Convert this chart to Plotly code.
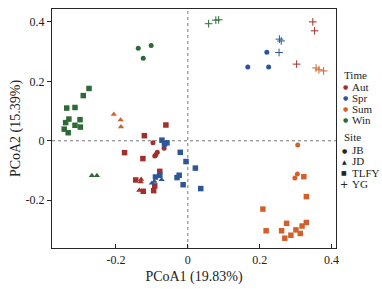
import plotly.graph_objects as go

# ---------------- data (PCoA1, PCoA2) ----------------
TIMES = ["Aut", "Spr", "Sum", "Win"]
SITES = ["JB", "JD", "TLFY", "YG"]
TIME_COLORS = {"Aut": "#A1302D", "Spr": "#2C5697", "Sum": "#D3602C", "Win": "#2E6A37"}
SITE_SYMBOLS = {"JB": "circle", "JD": "triangle-up", "TLFY": "square", "YG": "cross-thin"}

aut_jb_x = [-0.097, -0.066, -0.085, -0.089, -0.092]
aut_jb_y = [-0.007, -0.025, -0.039, -0.047, -0.051]
aut_jd_x = [-0.130, -0.131, -0.135]
aut_jd_y = [-0.130, -0.138, -0.167]
aut_tlfy_x = [-0.061, -0.121, -0.176, -0.125, -0.078, -0.145, -0.092, -0.095, -0.124]
aut_tlfy_y = [0.053, 0.017, -0.040, -0.060, -0.103, -0.132, -0.152, -0.168, -0.170]
aut_yg_x = [0.348, 0.353, 0.303]
aut_yg_y = [0.400, 0.370, 0.258]

spr_jb_x = [0.220, 0.167, 0.225]
spr_jb_y = [0.298, 0.248, 0.248]
spr_jd_x = [-0.100, -0.093, -0.073]
spr_jd_y = [-0.143, -0.137, -0.131]
spr_tlfy_x = [-0.072, -0.058, -0.065, -0.021, -0.005, 0.021, -0.024, -0.030, -0.013, 0.036, -0.090, -0.078]
spr_tlfy_y = [0.002, -0.007, -0.011, -0.039, -0.070, -0.092, -0.116, -0.124, -0.148, -0.161, -0.122, -0.116]
spr_yg_x = [0.255, 0.260, 0.254]
spr_yg_y = [0.342, 0.336, 0.297]

sum_jb_x = [0.306, 0.305, 0.298]
sum_jb_y = [-0.014, -0.112, -0.125]
sum_jd_x = [-0.206, -0.187, -0.186]
sum_jd_y = [0.089, 0.070, 0.047]
sum_tlfy_x = [0.323, 0.330, 0.209, 0.218, 0.261, 0.275, 0.330, 0.318, 0.301, 0.313, 0.287, 0.270]
sum_tlfy_y = [-0.121, -0.188, -0.230, -0.303, -0.303, -0.278, -0.275, -0.287, -0.300, -0.312, -0.318, -0.328]
sum_yg_x = [0.357, 0.365, 0.378]
sum_yg_y = [0.245, 0.239, 0.235]

win_jb_x = [-0.138, -0.102, -0.124]
win_jb_y = [0.311, 0.321, 0.278]
win_jd_x = [-0.267, -0.253]
win_jd_y = [-0.117, -0.117]
win_tlfy_x = [-0.275, -0.291, -0.337, -0.314, -0.331, -0.340, -0.300, -0.314, -0.299, -0.344, -0.333]
win_tlfy_y = [0.176, 0.152, 0.110, 0.112, 0.073, 0.061, 0.071, 0.052, 0.046, 0.039, 0.027]
win_yg_x = [0.058, 0.078, 0.086]
win_yg_y = [0.394, 0.406, 0.407]

X_TICKS = [-0.2, 0, 0.2, 0.4]
X_TICKTEXT = ["-0.2", "0", "0.2", "0.4"]
Y_TICKS = [-0.2, 0, 0.2, 0.4]
Y_TICKTEXT = ["-0.2", "0", "0.2", "0.4"]
X_TITLE = "PCoA1 (19.83%)"
Y_TITLE = "PCoA2 (15.39%)"

GROUPS = [
    ("Aut", "JB", aut_jb_x, aut_jb_y), ("Aut", "JD", aut_jd_x, aut_jd_y),
    ("Aut", "TLFY", aut_tlfy_x, aut_tlfy_y), ("Aut", "YG", aut_yg_x, aut_yg_y),
    ("Spr", "JB", spr_jb_x, spr_jb_y), ("Spr", "JD", spr_jd_x, spr_jd_y),
    ("Spr", "TLFY", spr_tlfy_x, spr_tlfy_y), ("Spr", "YG", spr_yg_x, spr_yg_y),
    ("Sum", "JB", sum_jb_x, sum_jb_y), ("Sum", "JD", sum_jd_x, sum_jd_y),
    ("Sum", "TLFY", sum_tlfy_x, sum_tlfy_y), ("Sum", "YG", sum_yg_x, sum_yg_y),
    ("Win", "JB", win_jb_x, win_jb_y), ("Win", "JD", win_jd_x, win_jd_y),
    ("Win", "TLFY", win_tlfy_x, win_tlfy_y), ("Win", "YG", win_yg_x, win_yg_y),
]

SIZES = {"circle": 5, "triangle-up": 5.5, "square": 5.5, "cross-thin": 5.5}

FONT = "Liberation Serif, Times New Roman, serif"
TEXT_COLOR = "#222222"

fig = go.Figure()
for t, s, xs, ys in GROUPS:
    sym = SITE_SYMBOLS[s]
    fig.add_trace(go.Scatter(
        x=xs, y=ys, mode="markers", showlegend=False,
        marker=dict(symbol=sym, size=SIZES[sym], color=TIME_COLORS[t],
                    line=dict(width=1 if sym == "cross-thin" else 0,
                              color=TIME_COLORS[t])),
    ))

# dotted zero lines
fig.add_shape(type="line", xref="x", yref="paper", x0=0, x1=0, y0=0, y1=1,
              line=dict(color="#777777", width=1, dash="dot"), layer="below")
fig.add_shape(type="line", xref="paper", yref="y", x0=0, x1=1, y0=0, y1=0,
              line=dict(color="#777777", width=1, dash="dot"), layer="below")

# ---------------- manual legend ----------------
ML, MR, MT, MB = 52, 46, 8, 38
W, H = 382, 289
PW, PH = W - ML - MR, H - MT - MB


def px2paper(px, py):
    return (px - ML) / PW, (H - MB - py) / PH


ann = []
tx, ty = px2paper(342, 75)
ann.append(dict(x=tx, y=ty, text="Time"))
for i, t in enumerate(TIMES):
    py = 87 + i * 11.2
    sx, sy = px2paper(345.5, py)
    ann.append(dict(x=sx, y=sy, text="●", font=dict(size=6, color=TIME_COLORS[t], family="DejaVu Sans"),
                    xanchor="center"))
    lx, ly = px2paper(350, py)
    ann.append(dict(x=lx, y=ly, text=t))
tx, ty = px2paper(342, 138)
ann.append(dict(x=tx, y=ty, text="Site"))
site_glyph = {"JB": ("●", 6), "JD": ("▲", 6), "TLFY": ("■", 6), "YG": ("+", 10)}
for i, s in enumerate(SITES):
    py = 151.5 + i * 11.5
    g, fs = site_glyph[s]
    sx, sy = px2paper(344, py)
    ann.append(dict(x=sx, y=sy, text=g, font=dict(size=fs, color=TEXT_COLOR, family="DejaVu Sans"),
                    xanchor="center"))
    lx, ly = px2paper(350, py)
    ann.append(dict(x=lx, y=ly, text=s))

for a in ann:
    a.setdefault("font", dict(size=11, color=TEXT_COLOR, family=FONT))
    a.setdefault("xanchor", "left")
    a.update(xref="paper", yref="paper", yanchor="middle", showarrow=False)

fig.update_layout(
    width=W, height=H,
    margin=dict(l=ML, r=MR, t=MT, b=MB),
    paper_bgcolor="white", plot_bgcolor="white",
    font=dict(family=FONT, size=12, color=TEXT_COLOR),
    annotations=ann,
    xaxis=dict(range=[-0.378, 0.4125], tickvals=X_TICKS, ticktext=X_TICKTEXT,
               showgrid=False, zeroline=False, showline=True, mirror=True,
               linecolor="#262626", linewidth=1.2, ticks="inside", ticklen=4,
               tickcolor="#262626", tickfont=dict(size=12, family=FONT, color=TEXT_COLOR),
               title=dict(text=X_TITLE, font=dict(size=14, family=FONT, color=TEXT_COLOR), standoff=5)),
    yaxis=dict(range=[-0.361, 0.4435], tickvals=Y_TICKS, ticktext=Y_TICKTEXT,
               showgrid=False, zeroline=False, showline=True, mirror=True,
               linecolor="#262626", linewidth=1.2, ticks="outside", ticklen=4,
               tickcolor="#262626", tickfont=dict(size=12, family=FONT, color=TEXT_COLOR),
               title=dict(text=Y_TITLE, font=dict(size=14, family=FONT, color=TEXT_COLOR), standoff=1)),
)

fig.write_html("out.html", config={"displayModeBar": False},
               post_script="document.body.style.margin='0';document.body.style.padding='0';")
